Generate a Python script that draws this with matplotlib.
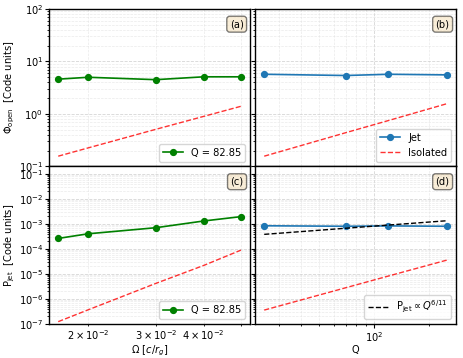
import matplotlib
matplotlib.use("Agg")
import matplotlib.pyplot as plt
import numpy as np

# Data
omega = [0.0167, 0.02, 0.03, 0.04, 0.05]
phi_omega = [4.6, 5.0, 4.5, 5.1, 5.1]
phi_iso_omega = [0.157, 0.226, 0.51, 0.90, 1.40]
pjet_omega = [2.65e-4, 4.06e-4, 7.1e-4, 1.32e-3, 1.97e-3]
pjet_iso_omega = [1.24e-7, 3.7e-7, 4.2e-6, 2.2e-5, 9.0e-5]

Q = [25.0, 70.0, 120.0, 251.0]
phi_Q = [5.7, 5.4, 5.7, 5.55]
phi_iso_Q = [0.157, 0.44, 0.75, 1.57]
pjet_Q = [8.5e-4, 8.1e-4, 8.4e-4, 8.1e-4]
pjet_iso_Q = [3.6e-7, 2.82e-6, 8.3e-6, 3.6e-5]
pjet_fit_Q = [3.85e-4, 6.76e-4, 9.07e-4, 1.35e-3]

panel_labels = ["(a)", "(b)", "(c)", "(d)"]
fs = 7.1

fig, axes = plt.subplots(2, 2, figsize=(4.63, 3.58), dpi=100, sharex='col', sharey='row')
fig.subplots_adjust(left=0.106, right=0.985, top=0.975, bottom=0.095, wspace=0.025, hspace=0.0)
(ax_a, ax_b), (ax_c, ax_d) = axes

red_kw = dict(color='red', ls='--', lw=1.0, alpha=0.8)

ax_a.plot(omega, phi_omega, '-o', color='green', lw=1.2, ms=4.2, label='Q = 82.85')
ax_a.plot(omega, phi_iso_omega, **red_kw)

ax_b.plot(Q, phi_Q, '-o', color='#1f77b4', lw=1.2, ms=4.2, label='Jet')
ax_b.plot(Q, phi_iso_Q, label='Isolated', **red_kw)

ax_c.plot(omega, pjet_omega, '-o', color='green', lw=1.2, ms=4.2, label='Q = 82.85')
ax_c.plot(omega, pjet_iso_omega, **red_kw)

ax_d.plot(Q, pjet_Q, '-o', color='#1f77b4', lw=1.2, ms=4.2)
ax_d.plot(Q, pjet_iso_Q, **red_kw)
ax_d.plot(Q, pjet_fit_Q, 'k--', lw=1.0, label=r'$\mathrm{P_{jet}} \propto Q^{6/11}$')

for ax, lab in zip(axes.flat, panel_labels):
    ax.set_xscale('log')
    ax.set_yscale('log')
    ax.grid(True, which='major', ls='--', color='#cccccc', lw=0.6, alpha=0.8)
    ax.grid(True, which='minor', ls='--', color='#dddddd', lw=0.5, alpha=0.6)
    ax.tick_params(which='both', labelsize=fs, pad=1.3)
    ax.tick_params(which='major', length=3)
    ax.tick_params(which='minor', length=1.7)
    for sp in ax.spines.values():
        sp.set_linewidth(1.0)
    ax.text(0.968, 0.935, lab, transform=ax.transAxes, ha='right', va='top', fontsize=fs,
            bbox=dict(boxstyle='round', facecolor='wheat', alpha=0.5))
    ax.legend(loc='lower right', fontsize=fs)

ax_a.set_ylim(1e-1, 1e2)
ax_c.set_ylim(1e-7, 0.2)

ax_a.set_ylabel(r'$\Phi_{\rm open}$  [Code units]', fontsize=fs, labelpad=1.5)
ax_c.set_ylabel(r'$\mathrm{P_{jet}}$  [Code units]', fontsize=fs, labelpad=1.5)
ax_c.set_xlabel(r'$\Omega\ [c/r_g]$', fontsize=fs, labelpad=1)
ax_d.set_xlabel('Q', fontsize=fs, labelpad=1)

fig.savefig('out.png', dpi=100)
